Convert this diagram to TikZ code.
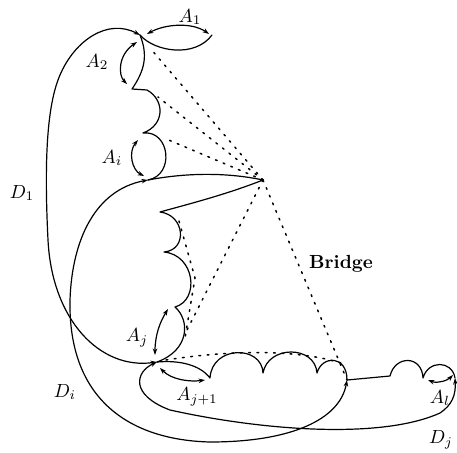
\documentclass[tikz,border=0pt]{standalone}
\usepackage{amsmath,amssymb}
\usepackage{tikz}
\usetikzlibrary{arrows.meta,calc}
\tikzset{
  bound/.style={line width=1.2pt, line cap=round, line join=round},
  twoway/.style={{Stealth[length=6.5pt,width=4.5pt]}-{Stealth[length=6.5pt,width=4.5pt]}, line width=1.2pt},
  bridgeln/.style={line width=1.5pt, line cap=round, dash pattern=on 1.8pt off 6.5pt},
  lbl/.style={inner sep=0pt, scale=1.9, transform shape},
}

\begin{document}
\begin{tikzpicture}[x=1pt, y=-1pt]
    \useasboundingbox (0,0) rectangle (457,452);
    % junction points
    \coordinate (T) at (140,35);
    \coordinate (a1) at (212,35);
    \coordinate (a2) at (132,89);
    \coordinate (b1) at (147,90);
    \coordinate (b2) at (143,133);
    \coordinate (ai) at (148,180);
    \coordinate (B) at (263,180);
    \coordinate (c1) at (160,212);
    \coordinate (c2) at (164,252);
    \coordinate (c3) at (175,307);
    \coordinate (J) at (157,362);
    \coordinate (e1) at (210,378);
    \coordinate (e2) at (263,373);
    \coordinate (e3) at (317,373);
    \coordinate (e4) at (347,380);
    \coordinate (e5) at (390,376);
    \coordinate (e6) at (423,378);
    \coordinate (al) at (455,378);
    % upper chain
    \draw[bound] (T) .. controls (155,52) and (195,58) .. (a1);
    \draw[twoway] (147,34) .. controls (165,24) and (192,22) .. (209,34);
    \draw[bound] (T) .. controls (148,55) and (145,70) .. (a2) -- (b1)
      .. controls (165,100) and (165,125) .. (b2)
      .. controls (170,130) and (175,175) .. (ai);
    \draw[twoway] (137,42) .. controls (118,55) and (118,75) .. (127,84);
    \draw[twoway] (138,140) .. controls (128,152) and (132,170) .. (144,176);
    % to the bridge point and back
    \draw[bound] (ai) .. controls (190,172) and (230,173) .. (B)
      .. controls (225,195) and (185,205) .. (c1)
      .. controls (185,215) and (188,250) .. (c2)
      .. controls (195,255) and (200,300) .. (c3)
      .. controls (190,320) and (190,350) .. (J);
    \draw[twoway] (168,309) .. controls (160,322) and (155,335) .. (155,355);
    % lower chain
    \draw[bound] (J) .. controls (180,360) and (200,365) .. (e1)
      .. controls (212,345) and (262,345) .. (e2)
      .. controls (268,345) and (315,345) .. (e3)
      .. controls (322,355) and (347,355) .. (e4) -- (e5)
      .. controls (395,355) and (422,355) .. (e6)
      .. controls (428,360) and (452,360) .. (al);
    \draw[twoway] (160,368) .. controls (172,380) and (190,382) .. (205,380);
    \draw[twoway] (428,380) .. controls (438,384) and (448,380) .. (453,375);
    % outer paths
    \draw[twoway] (J) .. controls (100,370) and (52,320) .. (48,240)
      .. controls (44,160) and (47,105) .. (60,75)
      .. controls (75,40) and (108,18) .. (T);
    \draw[twoway] (ai) .. controls (95,190) and (72,240) .. (70,300)
      .. controls (68,400) and (130,440) .. (210,442)
      .. controls (290,442) and (340,420) .. (e4);
    \draw[twoway] (J) .. controls (135,372) and (130,395) .. (170,410)
      .. controls (260,430) and (380,440) .. (440,413)
      .. controls (452,405) and (456,395) .. (al);
    % bridge
    \draw[bridgeln] (B) -- (150,48);
    \draw[bridgeln] (B) -- (158,97);
    \draw[bridgeln] (B) -- (164,138);
    \draw[bridgeln] (B) -- (186,332);
    \draw[bridgeln] (B) -- (e4);
    \draw[bridgeln] (179,221) -- (195,278) -- (185,338);
    \draw[bridgeln] (166,360) .. controls (230,350) and (300,349) .. (344,364);
    % labels
    \node[lbl] (lA1) at (190,17) {$A_1$};
    \node[lbl] (lA2) at (97,62) {$A_2$};
    \node[lbl] (lAi) at (112,158) {$A_i$};
    \node[lbl] (lD1) at (22,193) {$D_1$};
    \node[lbl] (lBr) at (341,264) {\bfseries Bridge};
    \node[lbl] (lAj) at (137,338) {$A_j$};
    \node[lbl] (lAj1) at (197,397) {$A_{j+1}$};
    \node[lbl] (lDi) at (65,392) {$D_i$};
    \node[lbl] (lDj) at (441,440) {$D_j$};
    \node[lbl] (lAl) at (440,398) {$A_l$};
\end{tikzpicture}
\end{document}
